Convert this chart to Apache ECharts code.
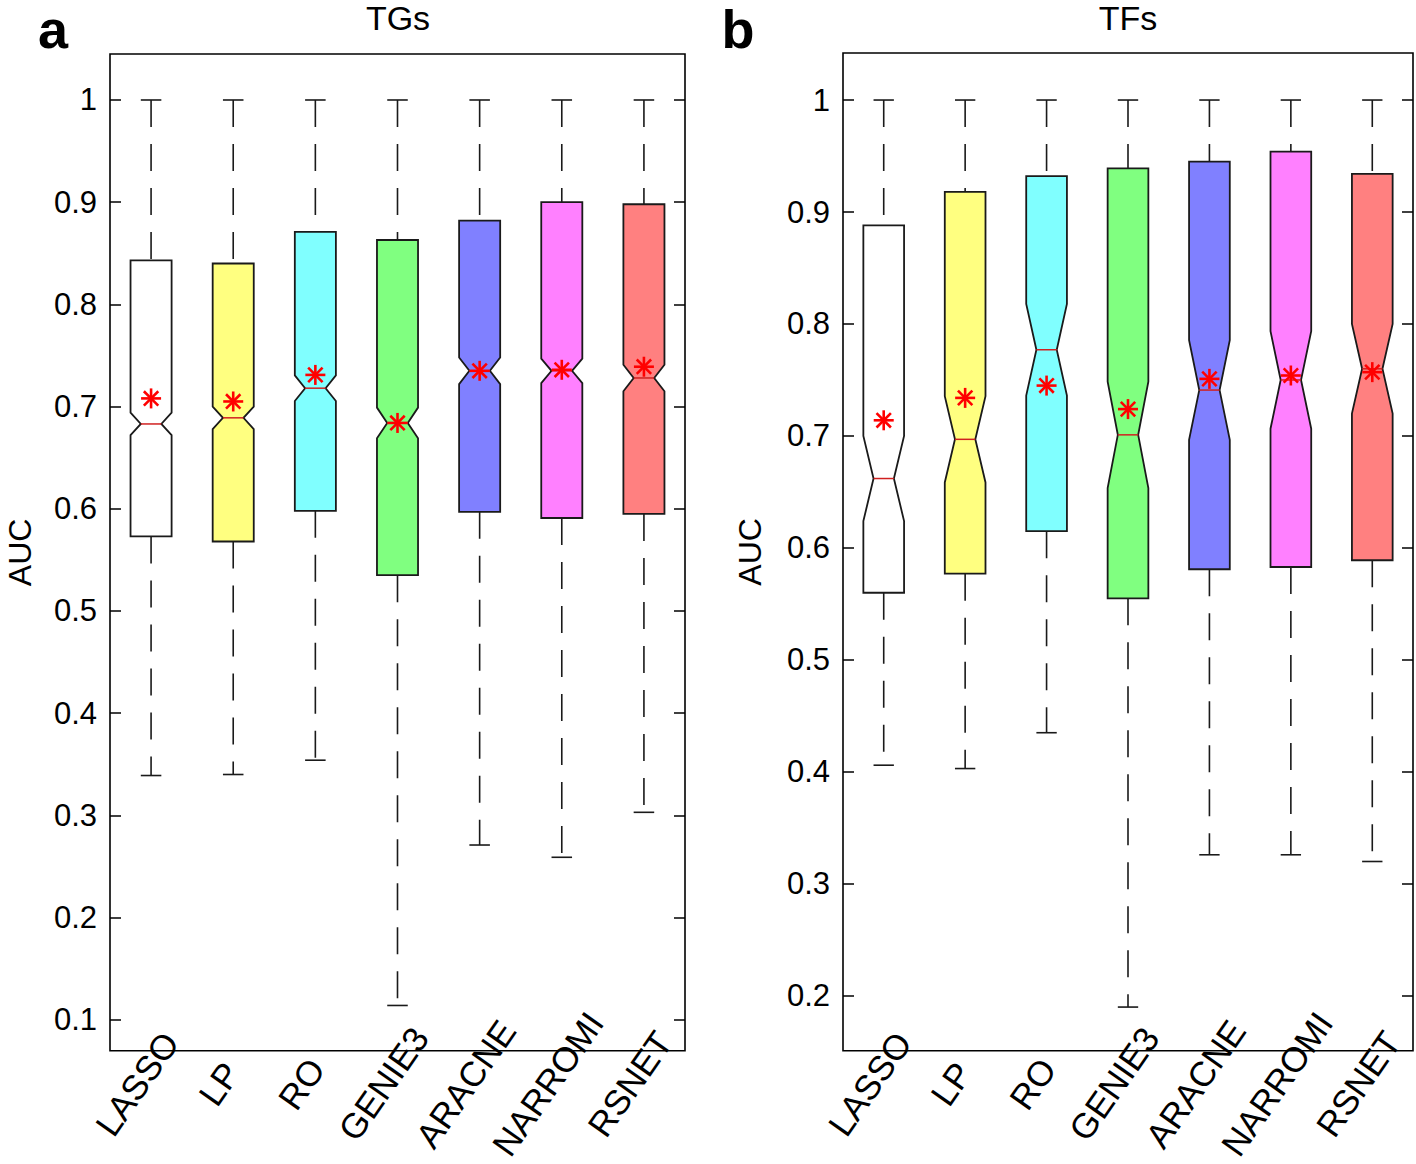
<!DOCTYPE html>
<html><head><meta charset="utf-8">
<script src="https://cdn.jsdelivr.net/npm/echarts@6/dist/echarts.min.js"></script>
<style>html,body{margin:0;padding:0;background:#fff}#c{width:1416px;height:1164px}</style>
</head><body><div id="c"></div>
<script>
// ---- data ----
const categories = ['LASSO', 'LP', 'RO', 'GENIE3', 'ARACNE', 'NARROMI', 'RSNET'];
const boxColors = ['#FFFFFF', '#FFFF80', '#80FFFF', '#80FF80', '#8080FF', '#FF80FF', '#FF8080'];
const yTicksA = [0.1, 0.2, 0.3, 0.4, 0.5, 0.6, 0.7, 0.8, 0.9, 1];
const yTicksB = [0.2, 0.3, 0.4, 0.5, 0.6, 0.7, 0.8, 0.9, 1];

// panel a: TGs
const tgLow = [0.339, 0.340, 0.354, 0.114, 0.271, 0.259, 0.303];
const tgQ1 = [0.573, 0.568, 0.598, 0.535, 0.597, 0.591, 0.595];
const tgMedian = [0.683, 0.689, 0.718, 0.684, 0.735, 0.735, 0.728];
const tgQ3 = [0.843, 0.840, 0.871, 0.863, 0.882, 0.900, 0.898];
const tgHigh = [1, 1, 1, 1, 1, 1, 1];
const tgNotch = [0.011, 0.011, 0.0125, 0.015, 0.013, 0.012, 0.013];
const tgMean = [0.708, 0.705, 0.731, 0.684, 0.735, 0.736, 0.739];

// panel b: TFs
const tfLow = [0.406, 0.403, 0.435, 0.190, 0.326, 0.326, 0.320];
const tfQ1 = [0.560, 0.577, 0.615, 0.555, 0.581, 0.583, 0.589];
const tfMedian = [0.662, 0.697, 0.777, 0.701, 0.741, 0.750, 0.760];
const tfQ3 = [0.888, 0.918, 0.932, 0.939, 0.945, 0.954, 0.934];
const tfHigh = [1, 1, 1, 1, 1, 1, 1];
const tfNotch = [0.038, 0.0385, 0.041, 0.0475, 0.0445, 0.0435, 0.040];
const tfMean = [0.714, 0.734, 0.745, 0.724, 0.751, 0.754, 0.757];

// ---- build ----
function rows(low, q1, med, q3, high, notch, mean) {
  return categories.map((c, i) => [i, low[i], q1[i], med[i] - notch[i], med[i], med[i] + notch[i], q3[i], high[i], mean[i]]);
}

const FONT = '"Liberation Sans", Arial, sans-serif';

function renderBox(params, api) {
  const i = api.value(0);
  const lo = api.value(1), q1 = api.value(2), nlo = api.value(3), med = api.value(4),
        nhi = api.value(5), q3 = api.value(6), hi = api.value(7), mean = api.value(8);
  const band = api.size([1, 0])[0];
  const hw = band * 0.25, nw = hw * 0.5, cw = band * 0.125;
  const cx = api.coord([i, med])[0];
  const y = v => api.coord([i, v])[1];
  const blk = '#1a1a1a';
  const pts = [
    [cx - hw, y(q3)], [cx + hw, y(q3)], [cx + hw, y(nhi)], [cx + nw, y(med)], [cx + hw, y(nlo)],
    [cx + hw, y(q1)], [cx - hw, y(q1)], [cx - hw, y(nlo)], [cx - nw, y(med)], [cx - hw, y(nhi)]
  ];
  const r = 10, d = r * 0.72, my = y(mean);
  const starStyle = { stroke: '#FF0000', lineWidth: 2.6 };
  const children = [
    { type: 'line', shape: { x1: cx, y1: y(hi), x2: cx, y2: y(q3) }, style: { stroke: blk, lineWidth: 1.6, lineDash: [27, 17] } },
    { type: 'line', shape: { x1: cx, y1: y(q1), x2: cx, y2: y(lo) }, style: { stroke: blk, lineWidth: 1.6, lineDash: [27, 17] } },
    { type: 'line', shape: { x1: cx - cw, y1: y(hi), x2: cx + cw, y2: y(hi) }, style: { stroke: blk, lineWidth: 1.6 } },
    { type: 'line', shape: { x1: cx - cw, y1: y(lo), x2: cx + cw, y2: y(lo) }, style: { stroke: blk, lineWidth: 1.6 } },
    { type: 'polygon', shape: { points: pts }, style: { fill: boxColors[i], stroke: blk, lineWidth: 1.8 } },
    { type: 'line', shape: { x1: cx - nw, y1: y(med), x2: cx + nw, y2: y(med) }, style: { stroke: '#D02020', lineWidth: 1.5 } },
    { type: 'line', shape: { x1: cx - r, y1: my, x2: cx + r, y2: my }, style: starStyle },
    { type: 'line', shape: { x1: cx, y1: my - r, x2: cx, y2: my + r }, style: starStyle },
    { type: 'line', shape: { x1: cx - d, y1: my - d, x2: cx + d, y2: my + d }, style: starStyle },
    { type: 'line', shape: { x1: cx - d, y1: my + d, x2: cx + d, y2: my - d }, style: starStyle }
  ];
  return { type: 'group', children };
}

function yAxes(gi, min, max, ticks, nameGap) {
  return [
    {
      type: 'value', gridIndex: gi, position: 'left', min, max,
      name: 'AUC', nameLocation: 'middle', nameGap, nameRotate: 90,
      nameTextStyle: { fontFamily: FONT, fontSize: 32, color: '#000' },
      axisLine: { show: false }, splitLine: { show: false },
      axisTick: { show: true, inside: true, length: 11, customValues: ticks, lineStyle: { color: '#000', width: 1.5 } },
      axisLabel: { customValues: ticks, margin: 13, fontFamily: FONT, fontSize: 31, color: '#000', formatter: v => String(+v.toFixed(2)) }
    },
    {
      type: 'value', gridIndex: gi, position: 'right', min, max,
      axisLine: { show: false }, splitLine: { show: false },
      axisTick: { show: true, inside: true, length: 11, customValues: ticks, lineStyle: { color: '#000', width: 1.5 } },
      axisLabel: { show: false }
    }
  ];
}

function xAxis(gi) {
  return {
    type: 'category', gridIndex: gi, data: categories, boundaryGap: true,
    axisLine: { show: false }, axisTick: { show: false }, splitLine: { show: false },
    axisLabel: {
      interval: 0, rotate: 55, align: 'center', verticalAlign: 'middle', margin: 13,
      padding: [0, 49, 0, 0],
      fontFamily: FONT, fontSize: 35, color: '#000'
    }
  };
}

const chart = echarts.init(document.getElementById('c'), null, { renderer: 'svg' });
chart.setOption({
  backgroundColor: '#fff',
  animation: false,
  grid: [
    { left: 110, right: 731, top: 54, bottom: 111, show: true, borderColor: '#000', borderWidth: 1.6, backgroundColor: 'transparent' },
    { left: 843, right: 3, top: 53, bottom: 111, show: true, borderColor: '#000', borderWidth: 1.6, backgroundColor: 'transparent' }
  ],
  xAxis: [xAxis(0), xAxis(1)],
  yAxis: [].concat(yAxes(0, 0.0697, 1.045, yTicksA, 74), yAxes(1, 0.151, 1.042, yTicksB, 77)),
  graphic: [
    { type: 'text', x: 398, y: 18, style: { text: 'TGs', font: '34px ' + FONT, fill: '#000', textAlign: 'center', textVerticalAlign: 'middle' } },
    { type: 'text', x: 1128, y: 18, style: { text: 'TFs', font: '34px ' + FONT, fill: '#000', textAlign: 'center', textVerticalAlign: 'middle' } },
    { type: 'text', x: 53, y: 29, style: { text: 'a', font: 'bold 54px ' + FONT, fill: '#000', textAlign: 'center', textVerticalAlign: 'middle' } },
    { type: 'text', x: 738, y: 29, style: { text: 'b', font: 'bold 54px ' + FONT, fill: '#000', textAlign: 'center', textVerticalAlign: 'middle' } }
  ],
  series: [
    { type: 'custom', xAxisIndex: 0, yAxisIndex: 0, renderItem: renderBox, encode: { x: 0, y: [1, 2, 4, 6, 7] },
      data: rows(tgLow, tgQ1, tgMedian, tgQ3, tgHigh, tgNotch, tgMean), clip: false },
    { type: 'custom', xAxisIndex: 1, yAxisIndex: 2, renderItem: renderBox, encode: { x: 0, y: [1, 2, 4, 6, 7] },
      data: rows(tfLow, tfQ1, tfMedian, tfQ3, tfHigh, tfNotch, tfMean), clip: false }
  ]
});
</script></body></html>
